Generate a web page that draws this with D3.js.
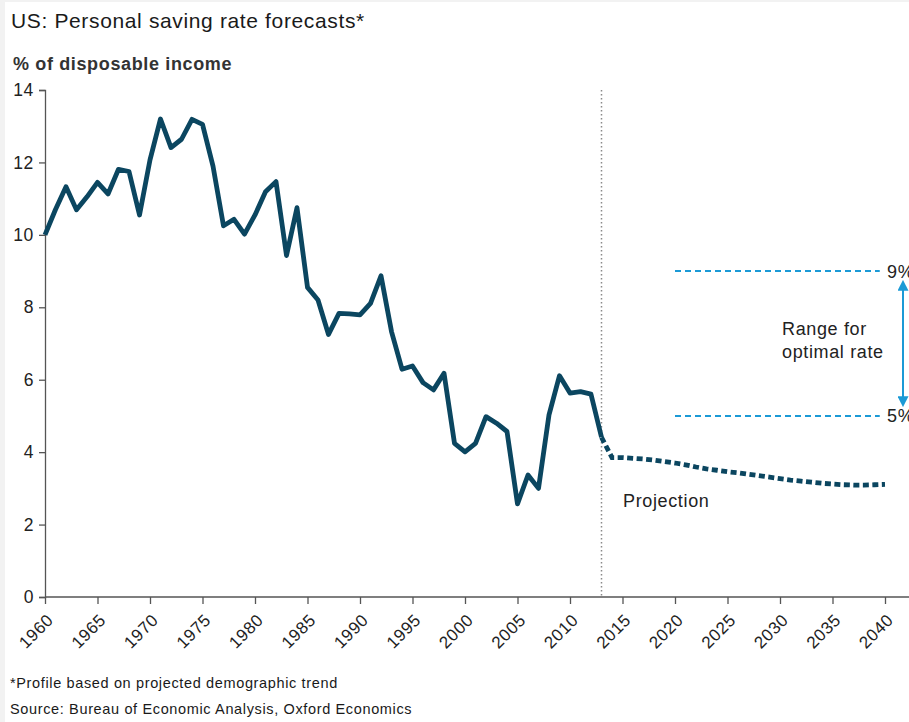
<!DOCTYPE html>
<html>
<head>
<meta charset="utf-8">
<script src="https://cdn.jsdelivr.net/npm/d3@7"></script>
<style>
  body { margin: 0; background: #f2f2f2; }
  svg { display: block; font-family: "Liberation Sans", Arial, sans-serif; letter-spacing: 0.04em; }
</style>
</head>
<body>
<div id="chart"></div>
<script>
const width = 909;
const height = 722;

// Historical saving rate, 1960-2013 (% of disposable income)
const histYears = d3.range(1960, 2014);
const histValues = [
  10.0, 10.7, 11.33, 10.69, 11.05, 11.45, 11.13, 11.81, 11.75, 10.55,
  12.07, 13.2, 12.41, 12.64, 13.19, 13.05, 11.9, 10.25, 10.43, 10.02,
  10.55, 11.19, 11.47, 9.43, 10.75, 8.55, 8.2, 7.25, 7.83, 7.82,
  7.79, 8.11, 8.87, 7.33, 6.29, 6.38, 5.92, 5.72, 6.18, 4.24,
  4.01, 4.24, 4.98, 4.80, 4.57, 2.57, 3.37, 3.0, 5.03, 6.11,
  5.63, 5.67, 5.6, 4.41
];

// Projection, 2013-2040
const projYears = d3.range(2013, 2041);
const projValues = [
  4.41, 3.85, 3.85, 3.83, 3.81, 3.78, 3.74, 3.70, 3.65, 3.59,
  3.54, 3.50, 3.46, 3.43, 3.39, 3.35, 3.31, 3.27, 3.23, 3.20,
  3.17, 3.14, 3.12, 3.10, 3.09, 3.09, 3.10, 3.11
];

const xTicks = d3.range(1960, 2041, 5);
const yTicks = [0, 2, 4, 6, 8, 10, 12, 14];
const optimalRange = [5, 9];
const rangeYears = [2020, 2039.5];
const projectionStart = 2013;

const x = d3.scaleLinear().domain([1960, 2040]).range([45, 885]);
const y = d3.scaleLinear().domain([0, 14]).range([597, 90]);

const svg = d3.select("#chart").append("svg")
  .attr("width", width)
  .attr("height", height);

// white panel (thin grey frame on left/top like the original)
svg.append("rect")
  .attr("x", 5).attr("y", 2)
  .attr("width", width - 5).attr("height", height - 2)
  .attr("fill", "#fff");

// titles
svg.append("text")
  .attr("x", 11).attr("y", 28)
  .attr("font-size", 21)
  .attr("fill", "#1a1a1a")
  .text("US: Personal saving rate forecasts*");

svg.append("text")
  .attr("x", 13).attr("y", 70)
  .attr("font-size", 18)
  .attr("font-weight", "bold")
  .attr("fill", "#333")
  .text("% of disposable income");

// axes
const yAxis = svg.append("g")
  .attr("transform", "translate(45,0)")
  .call(d3.axisLeft(y).tickValues(yTicks).tickSize(6).tickPadding(5));
yAxis.selectAll("text")
  .attr("font-size", 17.5)
  .attr("fill", "#222")
  .attr("font-family", "Liberation Sans, Arial, sans-serif");

const xAxis = svg.append("g")
  .attr("transform", "translate(0,597)")
  .call(d3.axisBottom(x).tickValues(xTicks).tickFormat(d3.format("d")).tickSize(7).tickSizeOuter(0));
xAxis.select(".domain").attr("d", "M45,0H909");
xAxis.selectAll("text")
  .attr("font-size", 17)
  .attr("fill", "#222")
  .attr("font-family", "Liberation Sans, Arial, sans-serif")
  .attr("text-anchor", "end")
  .attr("x", 0).attr("y", 0).attr("dy", 0)
  .attr("transform", "translate(9,24) rotate(-45)");

svg.selectAll(".domain, .tick line").attr("stroke", "#555").attr("stroke-width", 1.3);

// vertical dotted line at start of projection
svg.append("line")
  .attr("x1", x(projectionStart)).attr("x2", x(projectionStart))
  .attr("y1", y(14)).attr("y2", y(0))
  .attr("stroke", "#8a8a8a")
  .attr("stroke-width", 1.5)
  .attr("stroke-dasharray", "1.5,2.5");

// optimal range lines
const blue = "#1b9ad6";
svg.selectAll(".range-line")
  .data(optimalRange)
  .enter().append("line")
  .attr("class", "range-line")
  .attr("x1", x(rangeYears[0])).attr("x2", x(rangeYears[1]))
  .attr("y1", d => y(d)).attr("y2", d => y(d))
  .attr("stroke", blue)
  .attr("stroke-width", 2)
  .attr("stroke-dasharray", "6,4");

svg.selectAll(".range-label")
  .data(optimalRange)
  .enter().append("text")
  .attr("class", "range-label")
  .attr("x", 887)
  .attr("y", d => y(d))
  .attr("dy", "0.36em")
  .attr("font-size", 18)
  .attr("fill", "#222")
  .text(d => d + "%");

// double headed arrow
const defs = svg.append("defs");
defs.append("marker")
  .attr("id", "arrow")
  .attr("viewBox", "0 0 10 10")
  .attr("refX", 8).attr("refY", 5)
  .attr("markerWidth", 5.5).attr("markerHeight", 5.5)
  .attr("orient", "auto-start-reverse")
  .append("path")
  .attr("d", "M0,0L10,5L0,10Z")
  .attr("fill", blue);

svg.append("line")
  .attr("x1", 903).attr("x2", 903)
  .attr("y1", y(optimalRange[1]) + 11).attr("y2", y(optimalRange[0]) - 11)
  .attr("stroke", blue)
  .attr("stroke-width", 2)
  .attr("marker-start", "url(#arrow)")
  .attr("marker-end", "url(#arrow)");

const rangeText = svg.append("text")
  .attr("x", 782).attr("y", 335)
  .attr("font-size", 18)
  .attr("fill", "#222");
rangeText.append("tspan").attr("x", 782).text("Range for");
rangeText.append("tspan").attr("x", 782).attr("dy", 23).text("optimal rate");

svg.append("text")
  .attr("x", 623).attr("y", 507)
  .attr("font-size", 18)
  .attr("fill", "#222")
  .text("Projection");

// series
const lineColor = "#0b4660";
const line = d3.line()
  .x(d => x(d[0]))
  .y(d => y(d[1]));

svg.append("path")
  .datum(d3.zip(projYears, projValues))
  .attr("d", line)
  .attr("fill", "none")
  .attr("stroke", lineColor)
  .attr("stroke-width", 4.8)
  .attr("stroke-dasharray", "6,3.5");

svg.append("path")
  .datum(d3.zip(histYears, histValues))
  .attr("d", line)
  .attr("fill", "none")
  .attr("stroke", lineColor)
  .attr("stroke-width", 4.8)
  .attr("stroke-linejoin", "round");

// footnotes
svg.append("text")
  .attr("x", 10).attr("y", 688)
  .attr("font-size", 14.5)
  .attr("fill", "#1a1a1a")
  .text("*Profile based on projected demographic trend");

svg.append("text")
  .attr("x", 10).attr("y", 714)
  .attr("font-size", 14.5)
  .attr("fill", "#1a1a1a")
  .text("Source: Bureau of Economic Analysis, Oxford Economics");
</script>
</body>
</html>
